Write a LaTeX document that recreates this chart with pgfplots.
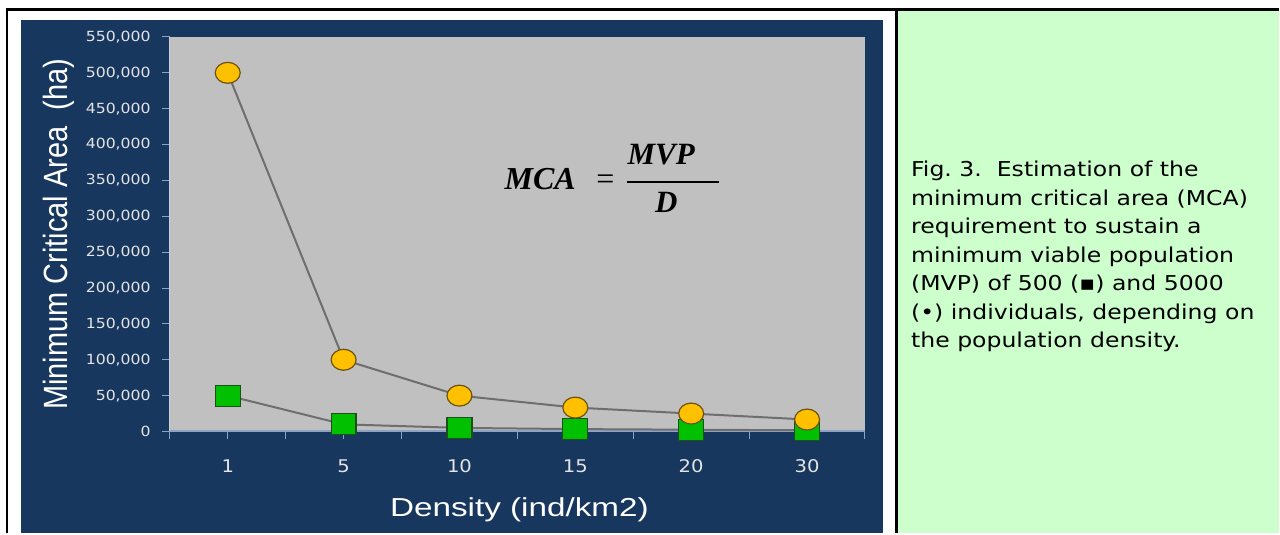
\documentclass[border=0pt]{standalone}
\usepackage{fontspec}
\usepackage{graphicx}
\usepackage{pgfplots}
\pgfplotsset{compat=1.18}
\setmainfont{DejaVu Sans}
\newfontfamily\verd[FakeStretch=1.12]{DejaVu Sans}
\newfontfamily\capfont[FakeStretch=1.15]{DejaVu Sans}
\newfontfamily\arial{Liberation Sans}
\newfontfamily\arialx[FakeStretch=1.28]{Liberation Sans}
\newfontfamily\tnr{Liberation Serif}
\frenchspacing

\definecolor{navy}{HTML}{17375E}
\definecolor{plotgray}{HTML}{C0C0C0}
\definecolor{capgreen}{HTML}{CCFFCC}
\definecolor{axisblue}{HTML}{8EA3C4}
\definecolor{ticktext}{HTML}{E4E4E4}
\definecolor{linegray}{HTML}{6E6E6E}
\definecolor{gold}{HTML}{FFC000}
\definecolor{goldedge}{HTML}{6B5210}
\definecolor{grn}{HTML}{00C000}
\definecolor{grnedge}{HTML}{1E4D1E}

\begin{document}
\begin{tikzpicture}
% page, frame and panels
\begin{scope}[x=1pt,y=1pt]
\fill[white] (0,0) rectangle (1280,534);
\fill[navy] (21,0) rectangle (884,514);
\fill[capgreen] (899,0) rectangle (1280,523);
\draw[black, line width=3pt] (6,524) -- (1280,524);
\draw[black, line width=2.5pt] (7.2,0) -- (7.2,525);
\draw[black, line width=3pt] (897.5,0) -- (897.5,524);
\end{scope}

\begin{axis}[
  at={(170pt,102pt)}, anchor=south west,
  width=696pt, height=395pt, scale only axis,
  xmin=-0.5, xmax=5.5, ymin=0, ymax=550000,
  axis background/.style={fill=plotgray},
  axis x line*=bottom, axis y line*=left,
  x axis line style={draw=axisblue, line width=2pt, -},
  y axis line style={draw=axisblue!50!white, line width=1pt, -},
  xtick={0,...,5}, xticklabels={1,5,10,15,20,30},
  minor xtick={-0.5,0.5,...,5.5},
  ytick={0,50000,...,550000},
  scaled y ticks=false,
  /pgf/number format/fixed,
  /pgf/number format/1000 sep={,},
  /pgf/number format/assume math mode=true,
  tick align=outside, major tick length=8pt, minor tick length=8pt,
  tick style={draw=axisblue, line width=1pt},
  yticklabel style={font=\verd\fontsize{14}{16}\selectfont, text=ticktext,
    anchor=east, inner sep=0pt, xshift=-11pt},
  xticklabel style={font=\verd\fontsize{17.5}{20}\selectfont, text=ticktext,
    anchor=center, inner sep=0pt, yshift=-27pt},
  xlabel={Density (ind/km2)},
  xlabel style={font=\arialx\fontsize{26}{30}\selectfont, text=white,
    at={(axis description cs:0.5029,-0.2152)}, anchor=base},
  ylabel={\scalebox{1}[1.16]{Minimum Critical Area\ \ (ha)}},
  ylabel style={font=\arial\fontsize{29}{32}\selectfont, text=white,
    at={(axis description cs:-0.1466,0.5)}, anchor=base},
  clip=false,
]
% MVP = 500
\addplot[linegray, line width=2pt, mark=square*, mark size=10.5pt,
  mark options={fill=grn, draw=grnedge, line width=1.2pt, xscale=1.19}]
  coordinates {(0,50000) (1,10000) (2,5000) (3,3333) (4,2500) (5,1667)};
% MVP = 5000
\addplot[linegray, line width=2pt, mark=*, mark size=10.5pt,
  mark options={fill=gold, draw=goldedge, line width=1.2pt, xscale=1.19}]
  coordinates {(0,500000) (1,100000) (2,50000) (3,33333) (4,25000) (5,16667)};
\end{axis}

% formula and caption
\begin{scope}[x=1pt,y=1pt]
\node[anchor=base west, inner sep=0pt] at (505,344)
  {\tnr\bfseries\itshape\fontsize{32}{36}\selectfont MCA};
\node[anchor=base, inner sep=0pt] at (606,344)
  {\tnr\fontsize{32}{36}\selectfont =};
\node[anchor=base, inner sep=0pt] at (662,369)
  {\tnr\bfseries\itshape\fontsize{31}{36}\selectfont MVP};
\node[anchor=base, inner sep=0pt] at (667,321)
  {\tnr\bfseries\itshape\fontsize{31}{36}\selectfont D};
\draw[black, line width=1.5pt] (628,352) -- (720,352);

\begin{scope}[every node/.style={anchor=base west, inner sep=0pt,
    font=\capfont\fontsize{20.5}{24}\selectfont}]
\node at (912,357)   {Fig. 3.\ \ Estimation of the};
\node at (912,328.5) {minimum critical area (MCA)};
\node at (912,300)   {requirement to sustain a};
\node at (912,271.5) {minimum viable population};
\node at (912,243)   {(MVP) of 500 (▪) and 5000};
\node at (912,214.5) {(•) individuals, depending on};
\node at (912,186)   {the population density.};
\end{scope}
\end{scope}
\end{tikzpicture}
\end{document}
